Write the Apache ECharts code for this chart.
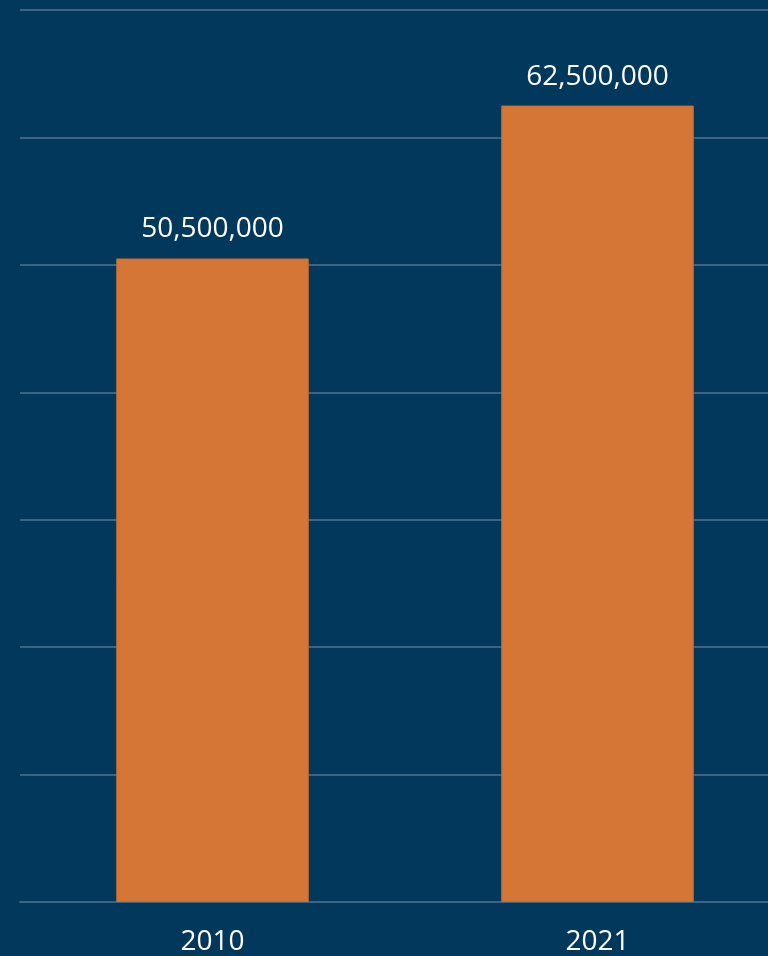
<!DOCTYPE html>
<html><head><meta charset="utf-8">
<script src="https://cdn.jsdelivr.net/npm/echarts@6/dist/echarts.min.js"></script>
<style>html,body{margin:0;padding:0;background:#02385B;overflow:hidden;width:768px;height:956px;}#c{width:790px;height:956px;}</style>
</head><body><div id="c"></div>
<script>
const categories = ['2010', '2021'];
const values = [50500000, 62500000];
const chart = echarts.init(document.getElementById('c'));
chart.setOption({
  backgroundColor: '#02385B',
  animation: false,
  grid: {left: 20, right: 0, top: 10, bottom: 53, containLabel: false},
  xAxis: {
    type: 'category', data: categories,
    axisLine: {show: true, lineStyle: {color: '#3D6483', width: 2}},
    axisTick: {show: false},
    axisLabel: {color: '#FFFFFF', fontFamily: 'Open Sans', fontSize: 28, margin: 26}
  },
  yAxis: {
    type: 'value', min: 0, max: 70000000, interval: 10000000,
    axisLabel: {show: false}, axisLine: {show: false}, axisTick: {show: false},
    splitLine: {lineStyle: {color: '#3D6483', width: 2}}
  },
  series: [{
    type: 'bar', data: values, barWidth: '50%',
    itemStyle: {color: '#D57637', borderColor: '#C96E33', borderWidth: 1},
    label: {show: true, position: 'top', distance: 15, color: '#FFFFFF', fontFamily: 'Open Sans', fontSize: 28,
      formatter: p => p.value.toLocaleString('en-US')}
  }]
});
</script></body></html>
